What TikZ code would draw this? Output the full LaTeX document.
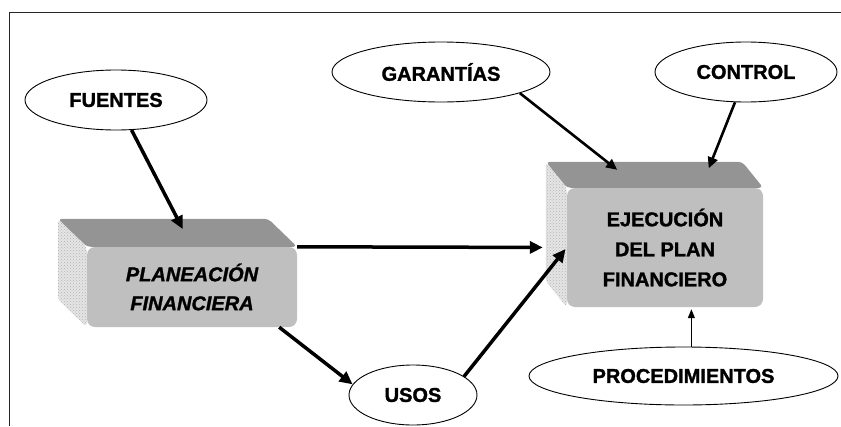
\documentclass[tikz,border=0pt]{standalone}
\usepackage{fontspec}
\setmainfont{Liberation Sans}[BoldFeatures = {FakeBold = 1.4}, BoldItalicFeatures = {FakeBold = 1.4}]
\usetikzlibrary{shapes.geometric,arrows.meta,calc,backgrounds,patterns}

\tikzset{
    elipse/.style = {draw, ellipse, line width = 0.9pt, inner sep = 0pt, minimum height = 60pt,
                     font = \bfseries\fontsize{20}{24}\selectfont},
    cara/.style = {fill = black!25, rounded corners = 8pt, inner sep = 0pt, align = center,
                   font = \bfseries\fontsize{20}{30}\selectfont},
    techo/.style = {fill = black!42, rounded corners = 4pt},
    lado/.style = {fill = black!10, rounded corners = 4pt,
                   postaction = {pattern = crosshatch dots, pattern color = black!30}},
    flecha/.style = {line width = 3.5pt, -{Triangle[length = 13pt, width = 12pt]}},
    flecha media/.style = {line width = 2.6pt, -{Triangle[length = 11pt, width = 10pt]}},
    flecha fina/.style = {line width = 1pt, -{Triangle[length = 9pt, width = 7pt]}}
}

\begin{document}
\begin{tikzpicture}[x = 1pt, y = -1pt]
        \useasboundingbox ( 0, 0 ) rectangle ( 841, 426 );

        % рамка
        \draw [line width = 1.5pt, black!85] ( 9.5, 426 ) -- ( 9.5, 12.5 ) -- ( 841, 12.5 );

        % глубина блоков
        \def \Px { -29 };
        \def \Py { -28 };
        \def \Ex { -21 };
        \def \Ey { -26 };

        % блоки
        \node [cara, minimum width = 210pt, minimum height = 80pt,
               font = \bfseries\itshape\fontsize{20}{29}\selectfont] (plan) at ( 192, 287 ) {PLANEACIÓN\\FINANCIERA};
        \node [cara, minimum width = 196pt, minimum height = 119pt] (ejec) at ( 665, 247.5 ) {EJECUCIÓN\\DEL PLAN\\FINANCIERO};

        % грани
        \begin{scope}[on background layer]
            \path [techo] ($(plan.north west) + ( \Px, \Py )$) -- ($(plan.north east) + ( \Px, \Py )$)
                -- (plan.north east) -- (plan.north west) -- cycle;
            \path [lado] ($(plan.north west) + ( \Px, \Py )$) -- (plan.north west)
                -- (plan.south west) -- ($(plan.south west) + ( \Px, \Py )$) -- cycle;
            \path [techo] ($(ejec.north west) + ( \Ex, \Ey )$) -- ($(ejec.north east) + ( \Ex, \Ey )$)
                -- (ejec.north east) -- (ejec.north west) -- cycle;
            \path [lado] ($(ejec.north west) + ( \Ex, \Ey )$) -- (ejec.north west)
                -- (ejec.south west) -- ($(ejec.south west) + ( \Ex, \Ey )$) -- cycle;
        \end{scope}

        % эллипсы
        \node [elipse, minimum width = 182pt] (fuentes) at ( 116, 100 ) {FUENTES};
        \node [elipse, minimum width = 218pt] (garantias) at ( 441, 72 ) {GARANTÍAS};
        \node [elipse, minimum width = 182pt] (control) at ( 746, 72 ) {CONTROL};
        \node [elipse, minimum width = 128pt] (usos) at ( 413, 395 ) {USOS};
        \node [elipse, minimum width = 309pt, minimum height = 58pt] (proced) at ( 683.5, 376 ) {PROCEDIMIENTOS};

        % стрелки
        \draw [flecha, shorten > = 20pt] (fuentes) -- (plan.north);
        \draw [flecha, shorten > = 24pt] (plan.north east) -- (ejec.west);
        \draw [flecha] ($(plan.south east) + ( -18, 0 )$) -- (usos.170);
        \draw [flecha, shorten > = 2pt] (usos.20) -- (ejec.west);
        \draw [flecha media, shorten > = 29pt] (garantias.-15) -- ($(ejec.north) + ( -25, 0 )$);
        \draw [flecha media, shorten > = 21pt] (control.-110) -- ($(ejec.north) + ( 36, 0 )$);
        \draw [flecha fina, shorten > = 2pt] (proced.75) -- (proced.75 |- ejec.south);
    \end{tikzpicture}
\end{document}
